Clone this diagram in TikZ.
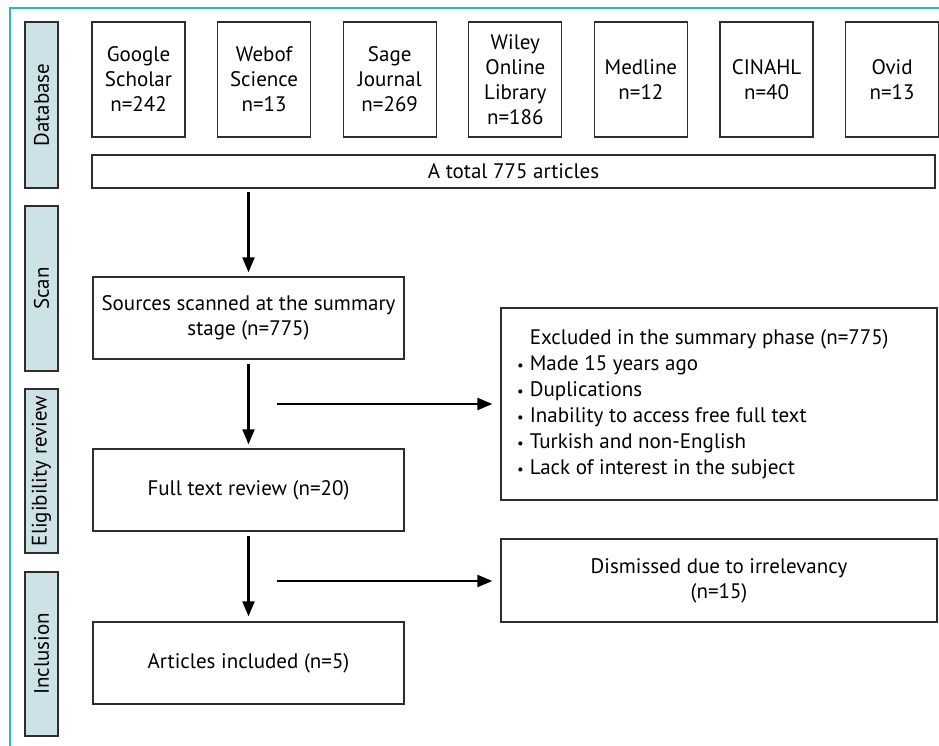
\documentclass[tikz,border=0pt]{standalone}
\usepackage{fontspec}
\setmainfont{PT Sans}
\usetikzlibrary{arrows.meta}
\definecolor{frame}{HTML}{2BB5C9}
\definecolor{side}{HTML}{CCE2E6}
\definecolor{edge}{HTML}{2E2E2E}
\begin{document}
\begin{tikzpicture}[x=1pt,y=-1pt,
  box/.style={draw=edge,line width=1.3pt,fill=white,inner sep=0pt,align=center,
    font=\fontsize{21}{25}\selectfont},
  sidebox/.style={draw=edge,line width=1.3pt,fill=side,inner sep=0pt,rotate=90,
    font=\fontsize{21}{25}\selectfont},
  arr/.style={line width=2.2pt,-{Triangle[length=15pt,width=12pt]}}
]
\useasboundingbox (0,0) rectangle (939,746);
\draw[frame,line width=1.5pt] (10,746) -- (10,8) -- (939,8);

% side labels
\node[sidebox,minimum width=166pt,minimum height=33pt] (sdb) at (41.5,105) {Database};
\node[sidebox,minimum width=165pt,minimum height=33pt] (ssc) at (41.5,288.5) {Scan};
\node[sidebox,minimum width=164pt,minimum height=33pt] (sel) at (41.5,471) {Eligibility review};
\node[sidebox,minimum width=164pt,minimum height=33pt] (sin) at (41.5,654) {Inclusion};

% database boxes
\node[box,minimum width=93pt,minimum height=115pt] (gs) at (138.5,79.5) {Google\\Scholar\\n=242};
\node[box,minimum width=93pt,minimum height=115pt] (wos) at (264.1,79.5) {Webof\\Science\\n=13};
\node[box,minimum width=93pt,minimum height=115pt] (sj) at (389.7,79.5) {Sage\\Journal\\n=269};
\node[box,minimum width=93pt,minimum height=115pt] (wol) at (515.3,79.5) {Wiley\\Online\\Library\\n=186};
\node[box,minimum width=93pt,minimum height=115pt] (med) at (640.9,79.5) {Medline\\n=12};
\node[box,minimum width=93pt,minimum height=115pt] (cin) at (766.5,79.5) {CINAHL\\n=40};
\node[box,minimum width=93pt,minimum height=115pt] (ovid) at (892.1,79.5) {Ovid\\n=13};

\node[box,minimum width=843pt,minimum height=33pt] (tot) at (513.5,171.5) {A total 775 articles};

% main flow
\node[box,minimum width=311pt,minimum height=82pt] (src) at (248.5,318) {Sources scanned at the summary\\stage (n=775)};
\node[box,minimum width=311pt,minimum height=82pt] (full) at (248.5,490) {Full text review (n=20)};
\node[box,minimum width=311pt,minimum height=82pt] (art) at (248.5,663) {Articles included (n=5)};

\node[box,minimum width=436pt,minimum height=192pt] (excl) at (719,404) {};
\node[anchor=west,inner sep=0pt,font=\fontsize{21}{26}\selectfont] (excltxt) at (517,404)
{\begin{tabular}{@{}l@{\hspace{6pt}}l@{}}
 & Excluded in the summary phase (n=775)\\
\scalebox{0.7}{\textbullet} & Made 15 years ago\\
\scalebox{0.7}{\textbullet} & Duplications\\
\scalebox{0.7}{\textbullet} & Inability to access free full text\\
\scalebox{0.7}{\textbullet} & Turkish and non-English\\
\scalebox{0.7}{\textbullet} & Lack of interest in the subject
\end{tabular}};
\node[box,minimum width=436pt,minimum height=83pt] (dis) at (719,580.5) {Dismissed due to irrelevancy\\(n=15)};

\coordinate (e1) at (277,404);
\coordinate (e2) at (277,581);

\draw[arr,shorten <=3pt,shorten >=4pt] (tot.south -| src.north) -- (src.north);
\draw[arr,shorten <=4pt,shorten >=4pt] (src) -- (full);
\draw[arr,shorten <=4pt,shorten >=5pt] (full) -- (art);
\draw[arr,shorten >=8pt] (e1) -- (e1 -| excl.west);
\draw[arr,shorten >=8pt] (e2) -- (e2 -| dis.west);
\end{tikzpicture}
\end{document}
